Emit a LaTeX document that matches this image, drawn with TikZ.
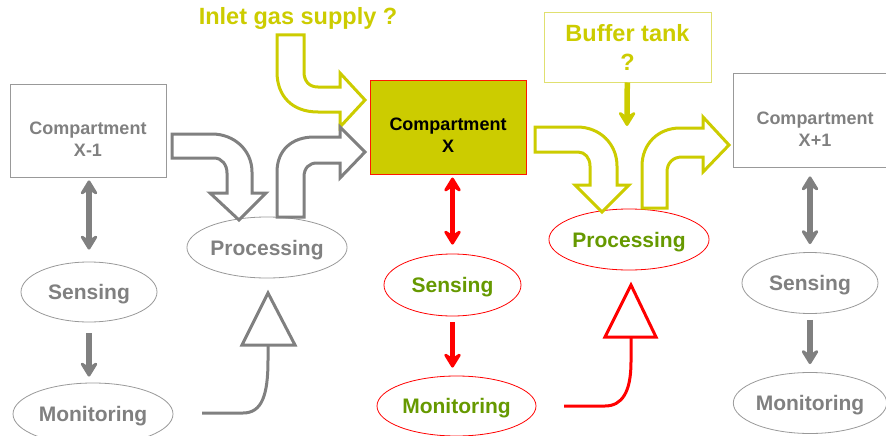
\documentclass[tikz,border=0pt]{standalone}
\usepackage{fontspec}
\setmainfont{Liberation Sans}
\usetikzlibrary{arrows.meta,shapes.geometric,positioning}
\definecolor{midgray}{HTML}{808080}
\definecolor{edgegray}{HTML}{999999}
\definecolor{gasyellow}{HTML}{CCCC00}
\definecolor{tankedge}{HTML}{E0E070}
\definecolor{leafgreen}{HTML}{669900}
\definecolor{alarmred}{HTML}{FF0000}

\tikzset{
  compartment/.style={draw=edgegray, line width=0.8pt, minimum width=156pt, minimum height=93pt, inner sep=0pt},
  complabel/.style={font=\bfseries\fontsize{18}{22}\selectfont, align=center},
  stage/.style={ellipse, draw=edgegray, line width=0.8pt, inner sep=0pt, text depth=0pt, font=\bfseries\fontsize{21}{25}\selectfont, text=midgray},
  bigflow/.style={line width=3pt, fill=white, line join=miter},
  chevron/.tip={Stealth[length=18pt, width=22pt, inset=7pt, round]},
  twoway/.style={line width=5.5pt, chevron-chevron},
  oneway/.style={line width=5.5pt, -chevron},
  feedback/.style={line width=3pt},
}

\begin{document}
\begin{tikzpicture}[x=1pt,y=-1pt]
    \useasboundingbox (0,0) rectangle (886,436);

    % Compartments
    \node[compartment, label={[complabel, text=midgray, yshift=-9pt]center:Compartment\\X-1}] (cxm1) at (88,130.5) {};
    \node[compartment, fill=gasyellow, draw=alarmred!80!orange, line width=1pt, minimum height=94pt,
          label={[complabel, text=black, yshift=-8pt]center:Compartment\\X}] (cx) at (448,127) {};
    \node[compartment, minimum width=160pt, minimum height=94pt,
          label={[complabel, text=midgray, yshift=-9pt, xshift=2pt]center:Compartment\\X+1}] (cxp1) at (813,120) {};

    % Open questions
    \node[text=gasyellow, font=\bfseries\fontsize{23.5}{28}\selectfont] (inlet) at (298,18) {Inlet gas supply ?};
    \node[draw=tankedge, line width=1pt, minimum width=167pt, minimum height=69pt, inner sep=0pt,
          text=gasyellow, font=\bfseries\fontsize{23.5}{29}\selectfont, align=center] (buftank) at (627.5,47.5) {Buffer tank\\?};

    % Sensing / monitoring / processing
    \node[stage, minimum width=136pt, minimum height=60pt] (sensL) at (89,292) {Sensing};
    \node[stage, minimum width=160pt, minimum height=62pt] (monL) at (93,414) {Monitoring};
    \node[stage, minimum width=160pt, minimum height=61pt] (procL) at (267,247.5) {Processing};

    \node[stage, draw=alarmred, text=leafgreen, minimum width=137pt, minimum height=62pt] (sensX) at (452.5,285) {Sensing};
    \node[stage, draw=alarmred, text=leafgreen, minimum width=159pt, minimum height=60pt] (monX) at (456.5,406) {Monitoring};
    \node[stage, draw=alarmred, text=leafgreen, minimum width=158pt, minimum height=61pt] (procR) at (629,239.5) {Processing};

    \node[stage, minimum width=136pt, minimum height=61pt] (sensR) at (810,283) {Sensing};
    \node[stage, minimum width=152pt, minimum height=61pt] (monR) at (810,403) {Monitoring};

    % Thick arrows between stages
    \draw[twoway, midgray, shorten <=3pt, shorten >=12pt] (cxm1.south -| sensL.north) -- (sensL.north);
    \draw[oneway, midgray, shorten <=11pt, shorten >=6pt] (sensL.south) -- (sensL.south |- monL.north);
    \draw[twoway, alarmred, shorten <=3pt, shorten >=9pt] (cx.south -| sensX.north) -- (sensX.north);
    \draw[oneway, alarmred, shorten <=6pt, shorten >=8pt] (sensX.south) -- (sensX.south |- monX.north);
    \draw[twoway, midgray, shorten <=9pt, shorten >=8pt] (cxp1.south -| sensR.north) -- (sensR.north);
    \draw[oneway, midgray, shorten <=6pt, shorten >=8pt] (sensR.south) -- (sensR.south |- monR.north);
    \draw[oneway, gasyellow, shorten >=1pt] (buftank) -- (627,127);

    % Block arrows (gas flow)
    \draw[bigflow, draw=gasyellow] (277,35) -- (304,35) -- (304,72) .. controls (304,81) and (309,87) .. (318,87)
        -- (340,87) -- (340,73) -- (365,100) -- (340,127) -- (340,112) -- (318,112)
        .. controls (292,112) and (277,96) .. (277,72) -- cycle;
    \draw[bigflow, draw=midgray] (172,134) -- (212,134) .. controls (234,134) and (252,150) .. (252,172)
        -- (252,193) -- (266,193) -- (239,220) -- (210,193) -- (227,193) -- (227,173)
        .. controls (227,165) and (222,158) .. (214,158) -- (172,158) -- cycle;
    \draw[bigflow, draw=midgray] (277,217) -- (277,172) .. controls (277,150) and (292,137) .. (314,137)
        -- (340,137) -- (340,127) -- (365,152) -- (340,178) -- (340,163) -- (317,163)
        .. controls (309,163) and (304,168) .. (304,177) -- (304,217) -- cycle;
    \draw[bigflow, draw=gasyellow] (535,127) -- (577,127) .. controls (600,127) and (617,144) .. (617,166)
        -- (617,185) -- (629,185) -- (602,212) -- (575,185) -- (590,185) -- (590,166)
        .. controls (590,158) and (585,152) .. (578,152) -- (535,152) -- cycle;
    \draw[bigflow, draw=gasyellow] (642,208) -- (642,166) .. controls (642,144) and (658,128) .. (680,128)
        -- (703,128) -- (703,117) -- (729,145) -- (703,172) -- (703,157) -- (682,157)
        .. controls (673,157) and (667,163) .. (667,172) -- (667,208) -- cycle;

    % Feedback from monitoring to processing
    \coordinate (fbL) at (202,413);
    \coordinate (fbX) at (564,406);
    \draw[feedback, midgray] (fbL) -- (243,413) .. controls (262,413) and (268,395) .. (268,360) -- (268,345);
    \draw[feedback, midgray, fill=white, line join=miter] (242,345) -- (268,293) -- (295,345) -- cycle;
    \draw[feedback, alarmred] (fbX) -- (605,406) .. controls (622,406) and (631,392) .. (631,362) -- (631,337);
    \draw[feedback, alarmred, fill=white, line join=miter] (605,337) -- (631,285) -- (656,337) -- cycle;
\end{tikzpicture}
\end{document}
